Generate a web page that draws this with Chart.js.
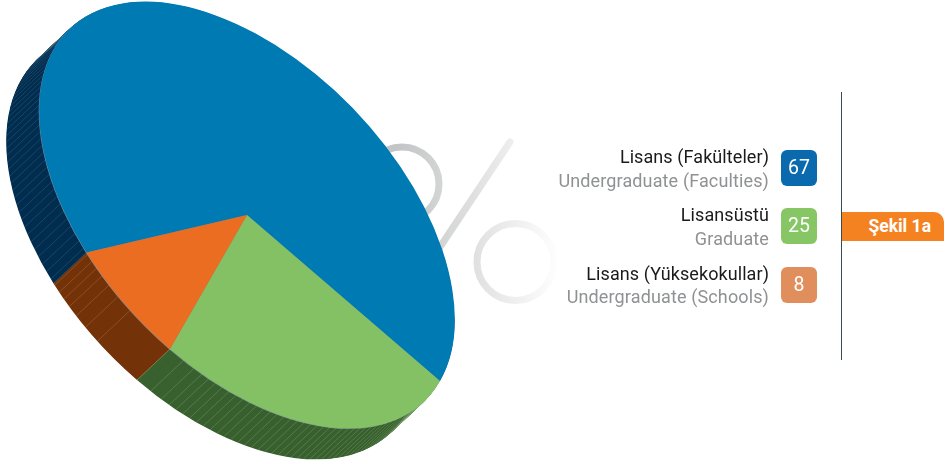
<!DOCTYPE html>
<html><head><meta charset="utf-8">
<script src="https://cdn.jsdelivr.net/npm/chart.js@4"></script>
<style>
html,body{margin:0;padding:0;background:#fff;width:947px;height:464px;overflow:hidden}
#wrap{position:relative;width:947px;height:464px;font-family:"Roboto",sans-serif}
canvas{position:absolute;left:0;top:0}
.t{position:absolute;right:178px;white-space:nowrap;font-size:18px;line-height:20px}
.tr{color:#1a1a1a;letter-spacing:.08px}.en{color:#8f9193;letter-spacing:.13px}
.b{position:absolute;left:781px;width:36px;height:36px;border-radius:6px;color:#fff;text-align:center;font-size:19.5px;line-height:36px}
#rule{position:absolute;left:841px;top:92px;width:1px;height:268px;background:#3a4a55}
#tab{position:absolute;left:842px;top:212px;width:102px;height:29px;background:#f58220;border-top-right-radius:10px;color:#fff;font-weight:700;font-size:17.5px;line-height:29px;text-align:right;box-sizing:border-box;padding-right:13px}
</style></head><body>
<div id="wrap"><canvas id="c" width="947" height="464"></canvas><div id="rule"></div><div id="tab">Şekil 1a</div></div>
<script>
const categoriesTr = ["Lisans (Fakülteler)", "Lisansüstü", "Lisans (Yüksekokullar)"];
const categoriesEn = ["Undergraduate (Faculties)", "Graduate", "Undergraduate (Schools)"];
const shares = [67, 25, 8];
const topColors = ["#007ab3", "#84c064", "#eb6d22"];
const sideColors = ["#022e50", "#39602f", "#733208"];
const hatchColors = ["rgba(150,190,215,.32)", "rgba(190,225,170,.42)", "rgba(240,190,150,.42)"];
const badgeColors = ["#0a6aad", "#86c665", "#e08f5c"];
const legendRows = [{tr:147,en:171,b:150},{tr:205,en:229,b:208},{tr:264,en:287,b:267}];

// oblique projection of the pie
const centre = {x:247, y:215};
const axisU = {x:193, y:166};   // image of the pie's 0 deg radius
const axisV = {x:-77, y:134};   // image of the pie's 90 deg radius
const depth = {x:-33, y:31};

function applyProjection(ctx, arc, dx, dy){
  const R = arc.outerRadius, a=axisU.x/R, b=axisU.y/R, c=axisV.x/R, d=axisV.y/R;
  ctx.setTransform(a,b,c,d, centre.x+dx-a*arc.x-c*arc.y, centre.y+dy-b*arc.x-d*arc.y);
}
function paintArc(ctx, arc, colour){
  const keep = arc.options, o = Object.create(keep);
  o.backgroundColor = colour; o.borderWidth = 0;
  arc.options = o; arc.draw(ctx); arc.options = keep;
}
function rimLine(ctx, a){
  const c=Math.cos(a), s=Math.sin(a);
  const x=centre.x+axisU.x*c+axisV.x*s, y=centre.y+axisU.y*c+axisV.y*s;
  ctx.beginPath(); ctx.moveTo(x,y); ctx.lineTo(x+depth.x,y+depth.y); ctx.stroke();
}
const DEG=Math.PI/180;
function hatchAngles(arc, i, seam){
  const out=[];
  if(i===0){ for(let a=arc.endAngle;a>=arc.startAngle;a-=2*DEG) out.push(a); return out; }
  if(i===1){ // green: from the seam, tightening
    let d=0; while(d<=arc.endAngle/DEG-arc.startAngle/DEG){ out.push(seam-d*DEG); d+=Math.max(1.9,4-.25*d); } return out;
  }
  // orange: a wide first gap, then tightening
  out.push(seam); let d=12.4;
  while(d<(arc.endAngle-arc.startAngle)/DEG){ out.push(seam+d*DEG); d+=Math.max(1.9,4.1-.2*(d-12.4)); }
  out.push(arc.endAngle);
  return out;
}
const percentBackdrop = {
  id:'percentBackdrop',
  beforeDatasetsDraw(chart){
    const ctx = chart.ctx;
    const g = ctx.createLinearGradient(400,0,560,0);
    g.addColorStop(0,'#c4c5c6'); g.addColorStop(1,'#ffffff');
    ctx.save(); ctx.strokeStyle=g; ctx.lineWidth=7; ctx.lineCap='round';
    ctx.beginPath(); ctx.arc(402,184,37,0,Math.PI*2); ctx.stroke();
    ctx.beginPath(); ctx.arc(515.5,262,38.5,0,Math.PI*2); ctx.stroke();
    ctx.beginPath(); ctx.moveTo(510,142); ctx.lineTo(430,262); ctx.stroke();
    ctx.restore();
  }
};
const extrusion = {
  id:'extrusion',
  beforeDatasetDraw(chart){
    const ctx = chart.ctx, arcs = chart.getDatasetMeta(0).data;
    ctx.save();
    for(let s=1;s>0;s-=1/64){
      arcs.forEach((arc,i)=>{ applyProjection(ctx,arc,depth.x*s,depth.y*s); paintArc(ctx,arc,sideColors[i]); });
    }
    ctx.setTransform(1,0,0,1,0,0);
    ctx.lineWidth=.5;
    const seam = arcs[2].startAngle;
    arcs.forEach((arc,i)=>{
      ctx.strokeStyle = hatchColors[i];
      hatchAngles(arc,i,seam).forEach(a=>rimLine(ctx,a));
    });
    arcs.forEach(arc=>{ applyProjection(ctx,arc,-.5,.5); paintArc(ctx,arc,'rgba(170,200,215,.6)'); });
    ctx.restore(); ctx.save();
    applyProjection(ctx,arcs[0],0,0);
  },
  afterDatasetDraw(chart){ chart.ctx.restore(); }
};
new Chart(document.getElementById('c'),{
  type:'pie',
  data:{labels:categoriesTr,datasets:[{data:shares,backgroundColor:topColors,borderWidth:0,clip:false}]},
  options:{responsive:false,animation:false,rotation:-151.2,
    layout:{padding:0},
    plugins:{legend:{display:false},tooltip:{enabled:false}},events:[]},
  plugins:[percentBackdrop,extrusion]
});
const wrap=document.getElementById('wrap');
shares.forEach((v,k)=>{
  const r=legendRows[k];
  const mk=(cls,txt,top)=>{const d=document.createElement('div');d.className=cls;d.textContent=txt;d.style.top=top+'px';wrap.appendChild(d);return d;};
  mk('t tr',categoriesTr[k],r.tr); mk('t en',categoriesEn[k],r.en);
  mk('b',String(v),r.b).style.background=badgeColors[k];
});
</script></body></html>
